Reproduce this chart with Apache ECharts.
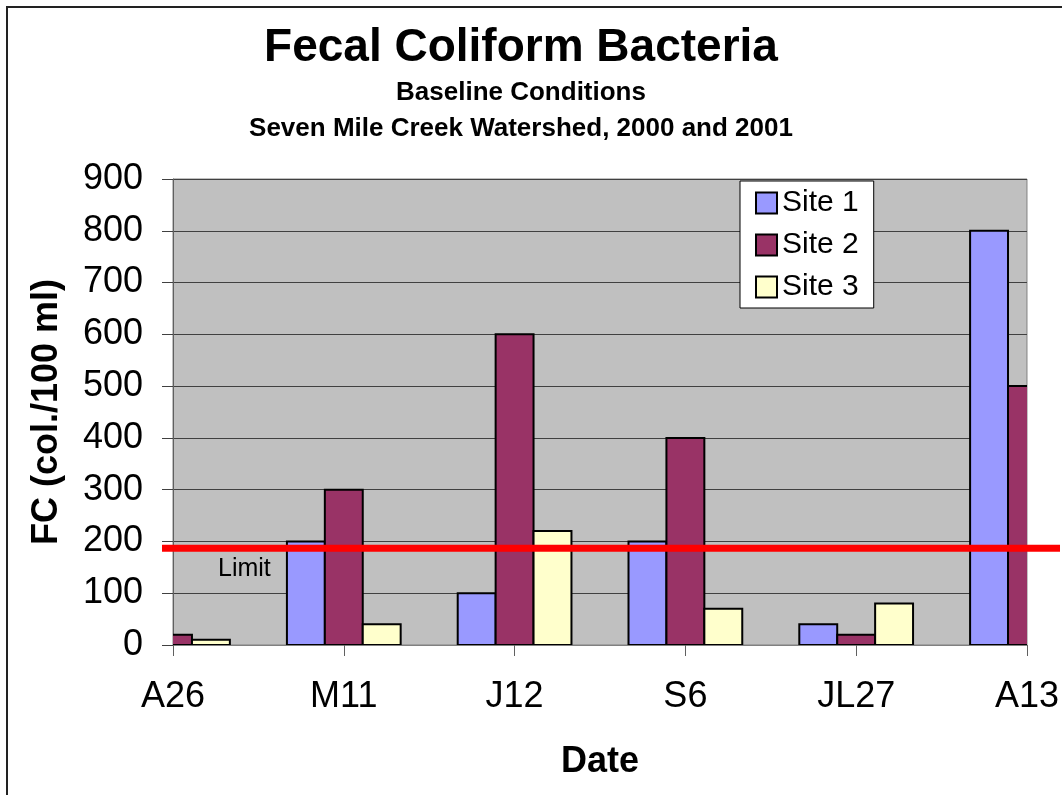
<!DOCTYPE html>
<html>
<head>
<meta charset="utf-8">
<script src="https://cdn.jsdelivr.net/npm/echarts@6/dist/echarts.min.js"></script>
<style>
  html, body { margin: 0; padding: 0; background: #fff; }
  #chart { width: 1062px; height: 795px; }
</style>
</head>
<body>
<div id="chart"></div>
<script>
// Sampling dates and fecal coliform counts (col./100 ml) per site
const dates = ['A26', 'M11', 'J12', 'S6', 'JL27', 'A13'];
const siteNames = ['Site 1', 'Site 2', 'Site 3'];
const site1 = [null, 200, 100, 200, 40, 800];
const site2 = [20, 300, 600, 400, 20, 500];
const site3 = [10, 40, 220, 70, 80, null];
const limitValue = 187;
const yMin = 0, yMax = 900, yStep = 100;

const FONT = '"Liberation Sans", Arial, Helvetica, sans-serif';
const siteColors = ['#9999FF', '#993366', '#FFFFCC'];
const BAR_FRACTION = 0.222;   // each bar's share of the category spacing

const chart = echarts.init(document.getElementById('chart'), null, { renderer: 'canvas' });

function titleLine(text, y, size) {
  return {
    text: text, left: 521, top: y, padding: 0,
    textAlign: 'center', textVerticalAlign: 'middle',
    textStyle: { fontSize: size, fontWeight: 'bold', color: '#000', fontFamily: FONT }
  };
}

// Clustered bars drawn as a custom series so they are clipped to the plot area
function barSeries(name, values, color, slot) {
  return {
    name: name, type: 'custom', clip: true,
    data: values.map((v, i) => [i, v]),
    encode: { x: 0, y: 1 },
    itemStyle: { color: color, borderColor: '#000', borderWidth: 2 },
    renderItem: function (params, api) {
      const v = api.value(1);
      if (v == null || isNaN(v)) return null;
      const idx = api.value(0);
      const base = api.coord([idx, 0]);
      const top = api.coord([idx, v]);
      const w = api.size([1, 0])[0] * BAR_FRACTION;
      const x = base[0] + (slot - 1.5) * w;
      return {
        type: 'rect',
        shape: { x: x, y: top[1], width: w, height: base[1] - top[1] },
        style: { fill: color, stroke: '#000', lineWidth: 2 }
      };
    }
  };
}

chart.setOption({
  animation: false,
  backgroundColor: '#fff',
  textStyle: { fontFamily: FONT },
  title: [
    titleLine('Fecal Coliform Bacteria', 48, 46),
    titleLine('Baseline Conditions', 93, 26),
    titleLine('Seven Mile Creek Watershed, 2000 and 2001', 129, 26)
  ],
  legend: {
    orient: 'vertical', left: 740, top: 181,
    padding: [7, 15, 6, 15],
    itemWidth: 21, itemHeight: 21, itemGap: 12,
    backgroundColor: '#fff', borderColor: '#000', borderWidth: 1,
    icon: 'rect',
    itemStyle: { borderColor: '#000', borderWidth: 2 },
    textStyle: { fontSize: 30, color: '#000', fontFamily: FONT },
    data: siteNames.map((n, i) => ({ name: n, itemStyle: { color: siteColors[i], borderColor: '#000', borderWidth: 2 } }))
  },
  grid: {
    left: 173, top: 179, width: 856, height: 466,
    show: true, backgroundColor: '#C0C0C0', borderColor: '#808080', borderWidth: 1
  },
  xAxis: {
    type: 'category', data: dates, boundaryGap: false,
    name: 'Date', nameLocation: 'middle', nameGap: 99,
    nameTextStyle: { fontSize: 36, fontWeight: 'bold', color: '#000', fontFamily: FONT },
    axisLine: { lineStyle: { color: '#808080', width: 1 } },
    axisTick: { show: true, length: 11, lineStyle: { color: '#606060' } },
    axisLabel: { fontSize: 36, color: '#000', margin: 34, fontFamily: FONT },
    splitLine: { show: false }
  },
  yAxis: {
    type: 'value', min: yMin, max: yMax, interval: yStep,
    name: 'FC (col./100 ml)', nameLocation: 'middle', nameGap: 108, nameRotate: 90,
    nameTextStyle: { fontSize: 36, fontWeight: 'bold', color: '#000', fontFamily: FONT },
    axisLine: { show: true, lineStyle: { color: '#606060', width: 1 } },
    axisTick: { show: true, length: 11, lineStyle: { color: '#404040' } },
    axisLabel: { fontSize: 36, color: '#000', margin: 30, fontFamily: FONT },
    splitLine: { show: true, lineStyle: { color: '#404040', width: 1 } }
  },
  series: [
    barSeries(siteNames[0], site1, siteColors[0], 0),
    barSeries(siteNames[1], site2, siteColors[1], 1),
    barSeries(siteNames[2], site3, siteColors[2], 2)
  ]
});

// Regulatory limit line drawn across the chart at the limit value
const limitY = chart.convertToPixel({ yAxisIndex: 0 }, limitValue);
chart.setOption({
  graphic: [
    {
      type: 'rect', silent: true, z: 0,
      shape: { x: 7, y: 7, width: 1100, height: 900 },
      style: { fill: 'transparent', stroke: '#222', lineWidth: 2 }
    },
    {
      type: 'line', silent: true, z: 50,
      shape: { x1: 162, y1: limitY, x2: 1060, y2: limitY },
      style: { stroke: '#FF0000', lineWidth: 7 }
    },
    {
      type: 'text', silent: true, z: 50,
      x: 218, y: limitY + 21,
      style: { text: 'Limit', fontSize: 25, fontFamily: FONT, fill: '#000', align: 'left', verticalAlign: 'middle' }
    }
  ]
});
</script>
</body>
</html>
